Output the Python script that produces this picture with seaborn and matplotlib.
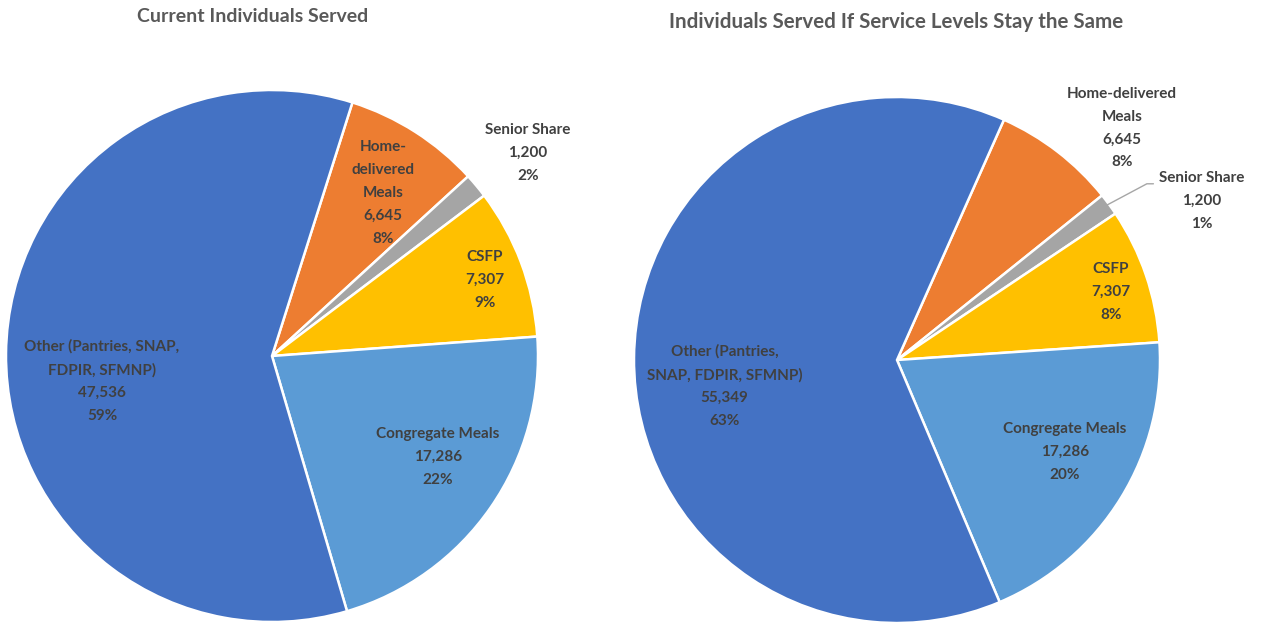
import matplotlib
matplotlib.use("Agg")
import matplotlib.pyplot as plt
import seaborn as sns

sns.set_theme(style="white")
plt.rcParams["font.family"] = ["Lato", "DejaVu Sans"]

# Program order (clockwise from the first slice)
programs = ["Home-delivered Meals", "Senior Share", "CSFP", "Congregate Meals", "Other"]
colors = ["#ED7D31", "#A5A5A5", "#FFC000", "#5B9BD5", "#4472C4"]

current_values = [6645, 1200, 7307, 17286, 47536]
same_levels_values = [6645, 1200, 7307, 17286, 55349]

current_names = ["Home-\ndelivered\nMeals", "Senior Share", "CSFP",
                 "Congregate Meals", "Other (Pantries, SNAP,\nFDPIR, SFMNP)"]
same_levels_names = ["Home-delivered\nMeals", "Senior Share", "CSFP",
                     "Congregate Meals", "Other (Pantries,\nSNAP, FDPIR, SFMNP)"]

titles = ["Current Individuals Served",
          "Individuals Served If Service Levels Stay the Same"]

# Label placement (relative to pie radius) for each chart
current_label_pos = [(0.417, 0.613), (0.962, 0.763), (0.80, 0.286),
                     (0.624, -0.38), (-0.639, -0.094)]
same_label_pos = [(0.856, 0.882), (1.16, 0.605), (0.814, 0.259),
                  (0.639, -0.35), (-0.656, -0.099)]

TEXT = "#404040"
W, H = 1264, 625
fig = plt.figure(figsize=(W / 100, H / 100), dpi=100)


def pie_axes(cx, cy, r):
    return fig.add_axes([(cx - r) / W, (H - cy - r) / H, 2 * r / W, 2 * r / H])


def draw(ax, values, names, label_pos, start, title, title_xy, title_size,
         leader=None):
    total = sum(values)
    ax.pie(values, colors=colors, startangle=start, counterclock=False,
           radius=1.0, wedgeprops=dict(edgecolor="white", linewidth=1.8))
    ax.set_xlim(-1, 1)
    ax.set_ylim(-1, 1)
    ax.set_aspect("equal")
    ax.axis("off")
    for v, name, (x, y) in zip(values, names, label_pos):
        pct = round(v / total * 100)
        ax.text(x, y, f"{name}\n{v:,}\n{pct}%", ha="center", va="center",
                fontsize=11, fontweight="bold", color=TEXT, linespacing=1.8,
                clip_on=False)
    fig.text(title_xy[0] / W, 1 - title_xy[1] / H, title, ha="center",
             va="center", fontsize=title_size, fontweight="bold", color="#595959")
    if leader is not None:
        ax.plot(leader[0], leader[1], color="#A6A6A6", lw=1, clip_on=False)


ax1 = pie_axes(272, 356, 266)
draw(ax1, current_values, current_names, current_label_pos, 72.4,
     titles[0], (253, 16), 14)

ax2 = pie_axes(897, 360, 263)
# leader from the Senior Share slice to its label
leader = ([0.80, 0.95, 0.975], [0.59, 0.67, 0.67])
draw(ax2, same_levels_values, same_levels_names, same_label_pos, 66,
     titles[1], (896, 22), 14.8, leader=leader)

fig.savefig("out.png", dpi=100, facecolor="white")
